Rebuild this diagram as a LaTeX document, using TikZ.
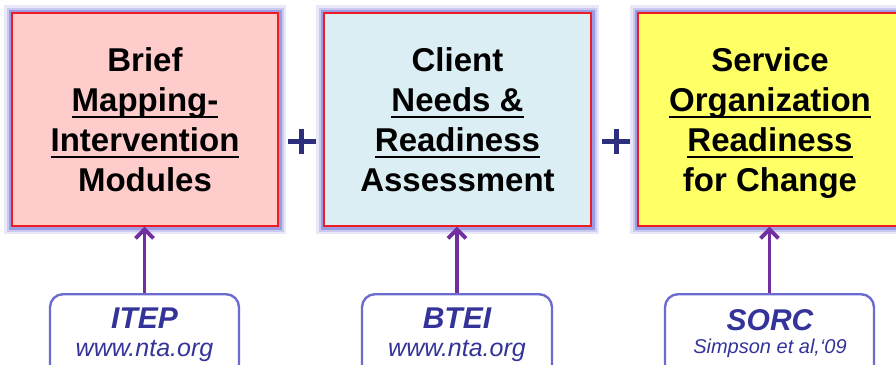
\documentclass[tikz,border=0pt]{standalone}
\usepackage{fontspec}
\setmainfont{Liberation Sans}
\usetikzlibrary{arrows.meta}
\definecolor{pinkfill}{HTML}{FFCCCC}
\definecolor{cyanfill}{HTML}{DAEEF3}
\definecolor{yellowfill}{HTML}{FFFF66}
\definecolor{redline}{HTML}{F01C24}
\definecolor{halo}{HTML}{8A8AE0}
\definecolor{purplearrow}{HTML}{7030A0}
\definecolor{navy}{HTML}{2E2E7E}
\definecolor{srcline}{HTML}{6B6BD0}
\definecolor{srctext}{HTML}{333399}
\newcommand\myul[1]{\setbox0\hbox{#1}\rlap{\rule[-7pt]{\wd0}{2.6pt}}\box0}
\tikzset{
  mainbox/.style={draw=redline, line width=1.4pt, minimum height=213pt, inner sep=0pt,
    preaction={draw=halo!20, line width=16pt},
    preaction={draw=halo!45, line width=11pt},
    preaction={draw=halo!85, line width=7pt}},
  maintext/.style={align=center, inner sep=0pt, font=\fontsize{33}{40}\selectfont\bfseries},
  srcbox/.style={draw=srcline, line width=2.4pt, rounded corners=13pt, fill=white, inner sep=0pt, minimum height=90pt},
  srctitle/.style={anchor=base, inner sep=0pt, text=srctext, font=\fontsize{30}{30}\selectfont\bfseries\itshape},
  srcsub/.style={anchor=base, inner sep=0pt, text=srctext, font=\fontsize{25}{25}\selectfont\itshape},
  link/.style={draw=purplearrow, line width=3.8pt, -{Straight Barb[length=9pt,width=18pt,line width=3.8pt]}},
  plusbar/.style={draw=navy, line width=5pt}
}
\begin{document}
\begin{tikzpicture}[x=1pt,y=-1pt]
\useasboundingbox (0,0) rectangle (896,364);
\clip (0,0) rectangle (896,364);
% main boxes
\node[mainbox, fill=pinkfill, minimum width=266pt] (b1) at (145,119.5) {};
\node[mainbox, fill=cyanfill, minimum width=267pt] (b2) at (457.5,119.5) {};
\node[mainbox, fill=yellowfill, minimum width=272pt] (b3) at (774,119.5) {};
\node[maintext] (t1) at (145,119.5) {Brief\\\myul{Mapping-}\\\myul{Intervention}\\Modules};
\node[maintext] (t2) at (457.5,119.5) {Client\\\myul{Needs \&}\\\myul{Readiness}\\Assessment};
\node[maintext] (t3) at (770,123) {Service\\\myul{Organization}\\\myul{Readiness}\\for Change};
% plus signs
\coordinate (p1) at (301.5,141);
\coordinate (p2) at (616,141);
\draw[plusbar] ([xshift=-14pt]p1) -- ([xshift=14pt]p1);
\draw[plusbar] ([yshift=-12.5pt]p1) -- ([yshift=12.5pt]p1);
\draw[plusbar] ([xshift=-14pt]p2) -- ([xshift=14pt]p2);
\draw[plusbar] ([yshift=-12.5pt]p2) -- ([yshift=12.5pt]p2);
% source boxes
\node[srcbox, minimum width=189pt, anchor=north] (s1) at (144.5,293) {};
\node[srcbox, minimum width=190pt, anchor=north] (s2) at (457,293) {};
\node[srcbox, minimum width=209pt, anchor=north] (s3) at (769.5,293) {};
\node[srctitle] (s1a) at (144.5,328) {ITEP};
\node[srcsub] (s1b) at (144.5,356) {www.nta.org};
\node[srctitle] (s2a) at (457,328) {BTEI};
\node[srcsub] (s2b) at (457,356) {www.nta.org};
\node[srctitle] (s3a) at (770,330) {SORC};
\node[srcsub, font=\fontsize{20}{20}\selectfont\itshape] (s3b) at (770,353) {Simpson et al,‘09};
% arrows
\draw[link] (s1.north) -- (s1.north |- b1.south);
\draw[link] (s2.north) -- (s2.north |- b2.south);
\draw[link] (s3.north) -- (s3.north |- b3.south);
\end{tikzpicture}
\end{document}
